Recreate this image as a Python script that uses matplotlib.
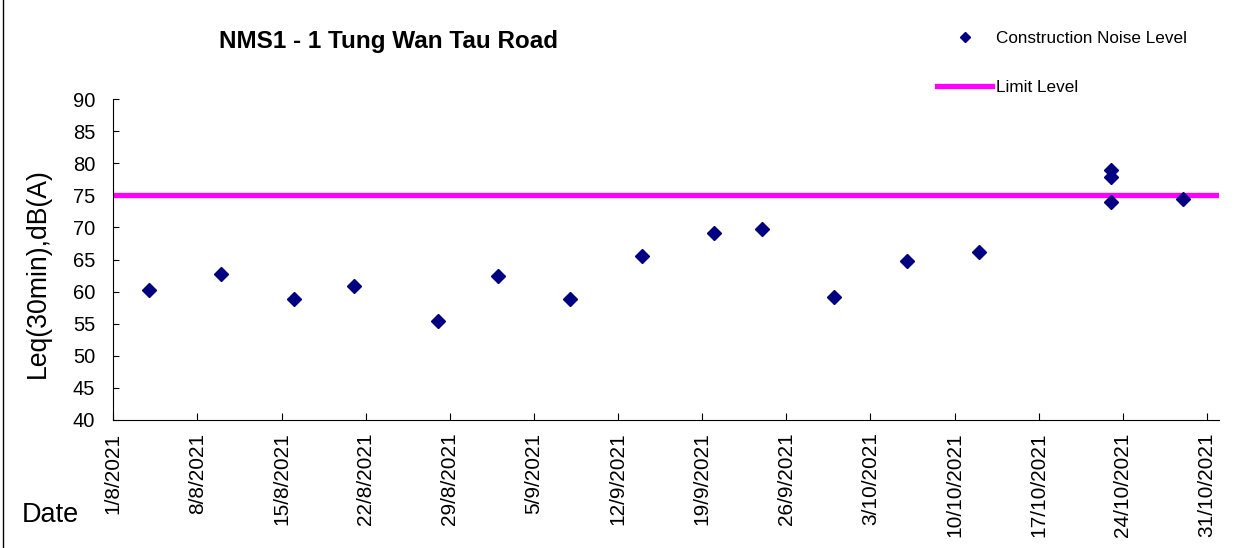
import datetime as dt
import matplotlib
matplotlib.use('Agg')
import matplotlib.pyplot as plt
import matplotlib.dates as mdates
from matplotlib.lines import Line2D

plt.rcParams['font.family'] = ['Liberation Sans', 'DejaVu Sans']

# measured noise levels, Leq(30min) dB(A)
dates = ['2021-08-04', '2021-08-10', '2021-08-16', '2021-08-21', '2021-08-28',
         '2021-09-02', '2021-09-08', '2021-09-14', '2021-09-20', '2021-09-24',
         '2021-09-30', '2021-10-06', '2021-10-12', '2021-10-23', '2021-10-23',
         '2021-10-23', '2021-10-29']
levels = [60.3, 62.7, 58.8, 60.8, 55.4,
          62.5, 58.8, 65.5, 69.1, 69.7,
          59.2, 64.8, 66.2, 79.0, 77.8,
          74.0, 74.5]
limit = 75

x_start = dt.date(2021, 8, 1)
x_end = dt.date(2021, 11, 1)
tick_dates = [x_start + dt.timedelta(days=7 * i) for i in range(14)]

x = [dt.datetime.strptime(d, '%Y-%m-%d') for d in dates]

fig = plt.figure(figsize=(12.53, 5.48), dpi=100)
ax = fig.add_axes([0.0904, 0.2336, 0.8825, 0.5857])

ax.axhline(limit, color='#FF00FF', lw=3.8, zorder=2, label='Limit Level')
ax.plot(x, levels, linestyle='none', marker='D', ms=7.5, color='#000080',
        zorder=3, label='Construction Noise Level')

ax.set_xlim(x_start, x_end)
ax.set_ylim(40, 90)
ax.set_yticks(range(40, 91, 5))
ax.set_xticks(tick_dates)
ax.xaxis.set_major_formatter(
    plt.FuncFormatter(lambda v, p: '{0.day}/{0.month}/{0.year}'.format(mdates.num2date(v))))

for s in ['top', 'right']:
    ax.spines[s].set_visible(False)
ax.tick_params(axis='y', direction='in', length=4, pad=13, labelsize=14.5)
ax.tick_params(axis='x', direction='in', length=5, pad=9, labelsize=15, labelrotation=90)

ax.set_ylabel('Leq(30min),dB(A)', fontsize=19.2)
ax.yaxis.set_label_coords(-0.068, 0.459)
ax.yaxis.label.set_va('center')

fig.text(0.31, 0.925, 'NMS1 - 1 Tung Wan Tau Road', fontsize=17.5, fontweight='bold',
         ha='center', va='center')
fig.text(0.017, 0.06, 'Date', fontsize=19.5, ha='left', va='center')

h, l = ax.get_legend_handles_labels()
fig.legend(h[::-1], l[::-1], loc='upper left', bbox_to_anchor=(0.748, 0.943),
           frameon=False, fontsize=12.3, handlelength=3.2, handletextpad=0.22,
           labelspacing=1.95, markerscale=0.65, borderpad=0, borderaxespad=0)

fig.add_artist(Line2D([0.002, 0.002], [0, 1], transform=fig.transFigure,
                      color='black', lw=1))

fig.savefig('out.png', dpi=100)
